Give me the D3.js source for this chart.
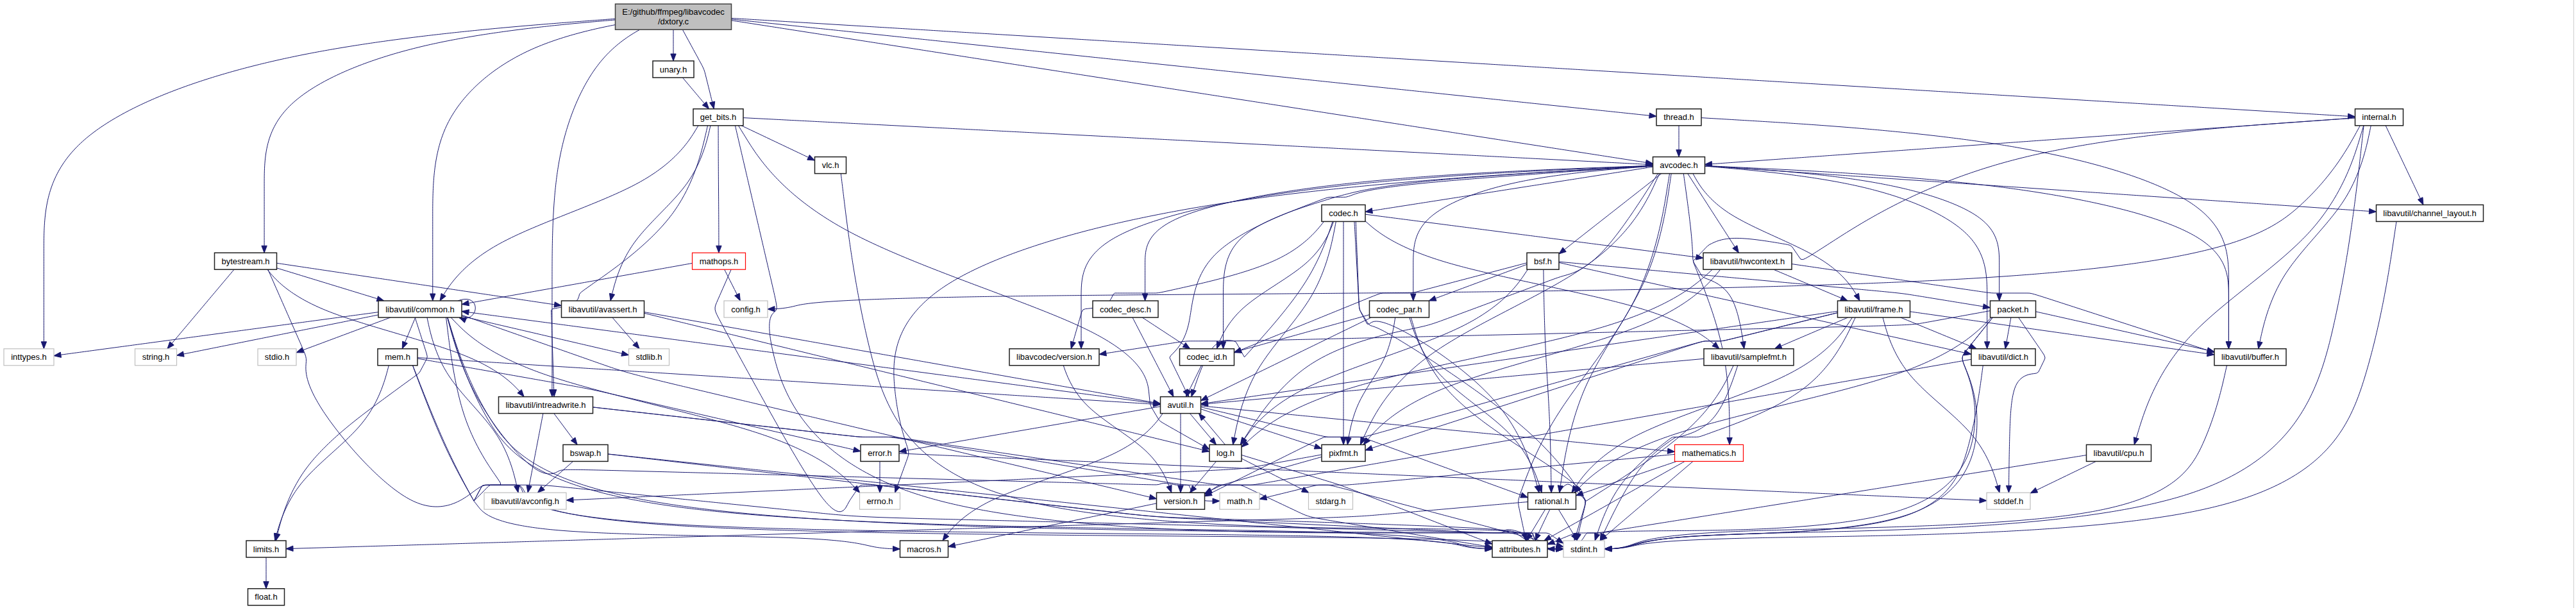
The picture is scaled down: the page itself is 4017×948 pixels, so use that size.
<!DOCTYPE html>
<html>
<head>
<meta charset="utf-8">
<script src="https://cdn.jsdelivr.net/npm/d3@7"></script>
<style>
  html, body { margin: 0; padding: 0; background: #ffffff; }
  svg { display: block; }
  text { font-family: "Liberation Sans", Arial, Helvetica, sans-serif; font-size: 13px; }
</style>
</head>
<body>
<svg id="graph" width="4017" height="948"></svg>
<script>
// include graph of libavcodec/dxtory.c (doxygen style)
const files = ["dxtory","unary","get_bits","thread","internal","vlc","avcodec","codec","channel_layout",
  "mathops","bsf","hwcontext","bytestream","common","avassert","config","codec_desc","codec_par","frame",
  "packet","inttypes","string","stdio","mem","stdlib","lavc_version","codec_id","samplefmt","dict","buffer",
  "intreadwrite","avutil","bswap","error","log","pixfmt","mathematics","cpu","avconfig","errno","version",
  "math","stdarg","rational","stddef","limits","macros","attributes","stdint","float"];

const labels = ["E:/github/ffmpeg/libavcodec\n/dxtory.c","unary.h","get_bits.h","thread.h","internal.h","vlc.h",
  "avcodec.h","codec.h","libavutil/channel_layout.h","mathops.h","bsf.h","libavutil/hwcontext.h","bytestream.h",
  "libavutil/common.h","libavutil/avassert.h","config.h","codec_desc.h","codec_par.h","libavutil/frame.h",
  "packet.h","inttypes.h","string.h","stdio.h","mem.h","stdlib.h","libavcodec/version.h","codec_id.h",
  "libavutil/samplefmt.h","libavutil/dict.h","libavutil/buffer.h","libavutil/intreadwrite.h","avutil.h",
  "bswap.h","error.h","log.h","pixfmt.h","mathematics.h","libavutil/cpu.h","libavutil/avconfig.h","errno.h",
  "version.h","math.h","stdarg.h","rational.h","stddef.h","limits.h","macros.h","attributes.h","stdint.h","float.h"];

// rank = row of the layout, column = centre of the box along the row
const ranks = [0,1,2,2,2,3,3,4,4,5,5,5,5,6,6,6,6,6,6,6,7,7,7,7,7,7,7,7,7,7,8,8,9,9,9,9,9,9,
  10,10,10,10,10,10,10,11,11,11,11,12];

const columns = [1050,1050,1120,2618,3710,1295,2618,2095,3789,1121,2406,2725,383,655,940,1163,1755,2182,
  2922,3139,45,243,432,620,1012,1644,1882,2727,3124,3509,851,1841,913,1372,1911,2095,2665,3304,819,1372,
  1841,1933,2075,2420,3132,415,1441,2370,2470,415];

const systemHeaders = ["config","inttypes","string","stdio","stdlib","avconfig","errno","math","stdarg","stddef","stdint"];
const truncated = ["mathops","mathematics"];

const includes = [
  ["dxtory", ["inttypes","bytestream","common","intreadwrite","unary","get_bits","avcodec","thread","internal"]],
  ["unary", ["get_bits"]],
  ["get_bits", ["common","avassert","intreadwrite","mathops","vlc","avcodec","log","stdint"]],
  ["thread", ["avcodec","buffer"]],
  ["internal", ["avcodec","buffer","channel_layout","mathematics","cpu","config","stdint"]],
  ["vlc", ["stdint"]],
  ["avcodec", ["errno","samplefmt","attributes","avutil","buffer","channel_layout","dict","frame","hwcontext",
    "log","pixfmt","rational","bsf","codec","codec_desc","codec_par","codec_id","packet","lavc_version"]],
  ["codec", ["stdint","avutil","hwcontext","log","pixfmt","rational","samplefmt","codec_id","lavc_version"]],
  ["channel_layout", ["stdint"]],
  ["mathops", ["common","config","stdint"]],
  ["bsf", ["dict","log","rational","codec_id","codec_par","packet"]],
  ["hwcontext", ["buffer","frame","log","pixfmt"]],
  ["bytestream", ["string","common","avassert","intreadwrite","stdint"]],
  ["common", ["errno","inttypes","limits","math","stdint","stdio","stdlib","string","attributes","macros",
    "version","avconfig","mem","common"]],
  ["avassert", ["stdlib","avutil","log"]],
  ["codec_desc", ["avutil","codec_id"]],
  ["codec_par", ["stdint","avutil","rational","pixfmt","codec_id"]],
  ["frame", ["stddef","stdint","avutil","buffer","dict","rational","samplefmt","pixfmt","version"]],
  ["packet", ["stddef","stdint","attributes","buffer","dict","rational","lavc_version"]],
  ["mem", ["limits","stdint","attributes","error","avutil"]],
  ["lavc_version", ["version"]],
  ["codec_id", ["avutil"]],
  ["samplefmt", ["stdint","avutil","attributes"]],
  ["dict", ["stdint","version"]],
  ["buffer", ["stdint"]],
  ["intreadwrite", ["stdint","avconfig","bswap","attributes"]],
  ["avutil", ["common","error","version","macros","mathematics","rational","log","pixfmt"]],
  ["bswap", ["stdint","avconfig","attributes"]],
  ["error", ["errno","stddef"]],
  ["log", ["stdarg","avutil","attributes","version"]],
  ["pixfmt", ["avconfig","version"]],
  ["mathematics", ["stdint","math","attributes","rational"]],
  ["cpu", ["stddef","attributes"]],
  ["rational", ["stdint","limits","attributes"]],
  ["version", ["macros"]],
  ["limits", ["float"]]
];

const EDGE = "#191970";
const W = 4017, H = 948;
const svg = d3.select("#graph");
svg.append("rect").attr("width", W).attr("height", H).attr("fill", "#ffffff");
svg.append("line").attr("x1", W - 3.5).attr("x2", W - 3.5).attr("y1", 0).attr("y2", H)
  .attr("stroke", "#cfcfcf").attr("stroke-width", 1);

const x = d3.scaleLinear().domain([0, W]).range([0, W]);
const y = d3.scaleLinear().domain([1, 12]).range([108, 930.8]);

// measure labels
const meas = svg.append("text").attr("visibility", "hidden");
const nodes = files.map((id, i) => {
  const lines = labels[i].split("\n");
  let tw = 0;
  lines.forEach(l => { meas.text(l); tw = Math.max(tw, meas.node().getComputedTextLength()); });
  const h = lines.length > 1 ? 40 : 26;
  return {
    id, lines, rank: ranks[i],
    cx: x(columns[i]),
    cy: y(ranks[i]) - (h - 26) / 2,
    w: Math.round(tw + 22), h,
    kind: i === 0 ? "root" : systemHeaders.includes(id) ? "sys" : truncated.includes(id) ? "trunc" : "doc"
  };
});
meas.remove();
const byId = new Map(nodes.map(n => [n.id, n]));

const edges = [];
includes.forEach(([s, ts]) => ts.forEach(t => edges.push({ s: byId.get(s), t: byId.get(t) })));
const pairKey = new Set(edges.map(e => e.s.id + ">" + e.t.id));

function route(e, i) {
  const S = { x: e.s.cx, y: e.s.cy }, T = { x: e.t.cx, y: e.t.cy };
  const span = e.t.rank - e.s.rank;
  if (span < 0 && pairKey.has(e.t.id + ">" + e.s.id)) { S.x += 14; T.x += 14; }
  let dx = T.x - S.x;
  // spread the ports along the box edges
  S.x += Math.sign(dx) * Math.min(e.s.w * 0.3, Math.abs(dx) * 0.05);
  T.x -= Math.sign(dx) * Math.min(e.t.w * 0.3, Math.abs(dx) * 0.05);
  dx = T.x - S.x;
  const dy = T.y - S.y;
  if (span <= 2) return [S, T];
  const sg = Math.sign(dx);
  if (span >= 4 && ((e.t.rank >= 11 && Math.abs(dx) > 1.5 * dy) || Math.abs(dx) > 4 * dy)) {
    const lane = T.y - e.t.h / 2 - 8 - (i % 4) * 4;
    return [S, { x: S.x + dx * 0.03, y: S.y + (lane - S.y) * 0.5 }, { x: S.x + dx * 0.12, y: lane },
      { x: T.x - sg * (e.t.w / 2 + 70), y: lane }, { x: T.x - sg * (e.t.w / 2 + 20), y: T.y }, T];
  }
  const fromRoot = e.s.rank === 0;
  if ((fromRoot && span >= 4) || (!fromRoot && e.s.rank <= 3 && Math.abs(dx) > 1.5 * dy)) {
    return [S, { x: S.x + dx * 0.6, y: S.y + dy * 0.08 }, { x: T.x, y: S.y + dy * 0.35 },
      { x: T.x, y: S.y + dy * 0.7 }, T];
  }
  if (Math.abs(dx) > 3 * dy) return [S, T];
  return [S, { x: S.x + dx * 0.15, y: S.y + dy * 0.35 }, { x: T.x - dx * 0.15, y: T.y - dy * 0.35 }, T];
}

const probe = svg.append("path").attr("visibility", "hidden");
const inBox = (p, b, m = 0) => Math.abs(p.x - b.cx) <= b.w / 2 + m && Math.abs(p.y - b.cy) <= b.h / 2 + m;
const curve = d3.line().curve(d3.curveBasis);

function firstHit(pts, e) {
  probe.attr("d", curve(pts.map(p => [p.x, p.y])));
  const el = probe.node(), L = el.getTotalLength();
  for (let l = 0; l <= L; l += 6) {
    const p = el.getPointAtLength(l);
    for (const n of nodes) {
      if (n === e.s || n === e.t || !inBox(p, n, 4)) continue;
      const q = el.getPointAtLength(Math.min(L, l + 5)), r = el.getPointAtLength(Math.max(0, l - 5));
      return { n, p, horiz: Math.abs(q.x - r.x) > Math.abs(q.y - r.y) };
    }
  }
  return null;
}

function avoid(pts, e) {
  for (let it = 0; it < 6; it++) {
    const hit = firstHit(pts, e);
    if (!hit) break;
    let w;
    if (hit.horiz) {
      const side = hit.p.y < hit.n.cy ? -1 : 1;
      w = { x: hit.p.x, y: hit.n.cy + side * (hit.n.h / 2 + 12) };
    } else {
      const side = Math.sign(hit.p.x - hit.n.cx) || Math.sign(e.t.cx - e.s.cx) || 1;
      w = { x: hit.n.cx + side * (hit.n.w / 2 + 16), y: hit.n.cy };
    }
    let best = 1, bestCost = Infinity;
    for (let k = 1; k < pts.length; k++) {
      const a = pts[k - 1], b = pts[k];
      const c = Math.hypot(a.x - w.x, a.y - w.y) + Math.hypot(b.x - w.x, b.y - w.y) - Math.hypot(a.x - b.x, a.y - b.y);
      if (c < bestCost) { bestCost = c; best = k; }
    }
    pts.splice(best, 0, w, w);
  }
  return pts;
}

function clip(pts, src, tgt) {
  probe.attr("d", curve(pts.map(p => [p.x, p.y])));
  const el = probe.node(), L = el.getTotalLength();
  const at = l => el.getPointAtLength(Math.max(0, Math.min(L, l)));
  let lo = 0, hi = L;
  for (let l = 0; l <= L; l += 3) { if (!inBox(at(l), src)) { hi = l; break; } lo = l; }
  for (let k = 0; k < 14; k++) { const m = (lo + hi) / 2; if (inBox(at(m), src)) lo = m; else hi = m; }
  const l0 = hi;
  lo = 0; hi = L;
  for (let l = L; l >= 0; l -= 3) { if (!inBox(at(l), tgt)) { lo = l; break; } hi = l; }
  for (let k = 0; k < 14; k++) { const m = (lo + hi) / 2; if (inBox(at(m), tgt)) hi = m; else lo = m; }
  const l1 = lo;
  const n = Math.max(2, Math.ceil((l1 - l0) / 4));
  const out = d3.range(n + 1).map(k => { const p = at(l0 + (l1 - l0) * k / n); return [p.x, p.y]; });
  const b = at(l1 - 10);
  return { pts: out, back: [b.x, b.y] };
}

function arrowHead(tip, from) {
  const ang = Math.atan2(tip[1] - from[1], tip[0] - from[0]);
  const len = 11, half = 4.2;
  const bx = tip[0] - Math.cos(ang) * len, by = tip[1] - Math.sin(ang) * len;
  const px = -Math.sin(ang) * half, py = Math.cos(ang) * half;
  return [[tip[0], tip[1]], [bx + px, by + py], [bx - px, by - py]];
}

const gEdges = svg.append("g").attr("fill", "none").attr("stroke", EDGE).attr("stroke-width", 1);
const gArrows = svg.append("g").attr("fill", EDGE).attr("stroke", EDGE).attr("stroke-width", 1);

edges.forEach((e, i) => {
  if (e.s === e.t) {
    const n = e.s, xr = n.cx + n.w / 2, top = n.cy - n.h / 2, bot = n.cy + n.h / 2;
    const path = d3.path();
    path.moveTo(xr - 6, top);
    path.bezierCurveTo(xr + 30, top - 14, xr + 30, bot + 8, xr - 4, bot + 1);
    gEdges.append("path").attr("d", path.toString());
    gArrows.append("polygon").attr("points", arrowHead([xr - 4, bot], [xr + 10, bot + 6]).join(" "));
    return;
  }
  const { pts, back } = clip(avoid(route(e, i), e), e.s, e.t);
  gEdges.append("path").attr("d", d3.line()(pts));
  gArrows.append("polygon").attr("points", arrowHead(pts[pts.length - 1], back).join(" "));
});
probe.remove();

const stroke = { root: "#404040", doc: "#202020", sys: "#bfbfbf", trunc: "#ff0000" };
const gNodes = svg.append("g").selectAll("g").data(nodes).join("g");
gNodes.append("rect")
  .attr("x", d => d.cx - d.w / 2).attr("y", d => d.cy - d.h / 2)
  .attr("width", d => d.w).attr("height", d => d.h)
  .attr("fill", d => d.kind === "root" ? "#bfbfbf" : "#ffffff")
  .attr("stroke", d => stroke[d.kind])
  .attr("stroke-width", d => d.kind === "sys" || d.kind === "trunc" ? 1.2 : 1.5);
gNodes.each(function (d) {
  const g = d3.select(this);
  d.lines.forEach((l, k) => {
    const off = (k - (d.lines.length - 1) / 2) * 15;
    g.append("text").attr("x", d.cx).attr("y", d.cy + off + 4.5)
      .attr("text-anchor", "middle").attr("fill", "#000").text(l);
  });
});
</script>
</body>
</html>
